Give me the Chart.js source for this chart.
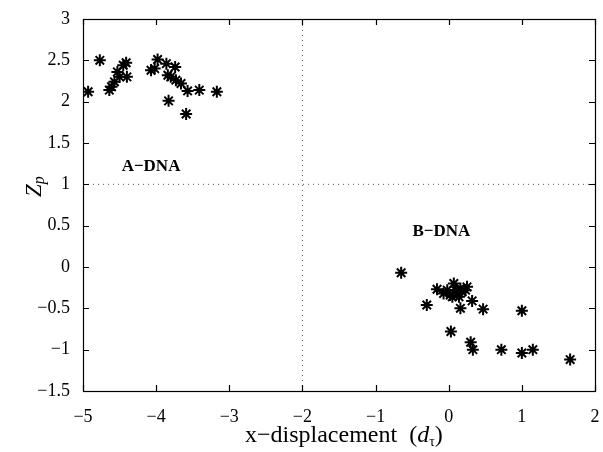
<!DOCTYPE html>
<html>
<head>
<meta charset="utf-8">
<script src="https://cdn.jsdelivr.net/npm/chart.js@4"></script>
<style>html,body{margin:0;padding:0;background:#fff}</style>
</head>
<body>
<canvas id="myChart" width="603" height="452"></canvas>
<script>
// A-DNA cluster
const aX = [-4.93, -4.77, -4.64, -4.61, -4.57, -4.53, -4.50, -4.45, -4.41, -4.40, -4.07, -4.02, -3.98, -3.86, -3.74, -3.84, -3.80, -3.73, -3.66, -3.57, -3.41, -3.17, -3.83, -3.59]
const aY = [2.12, 2.50, 2.14, 2.18, 2.24, 2.36, 2.30, 2.44, 2.47, 2.30, 2.38, 2.40, 2.51, 2.46, 2.42, 2.32, 2.30, 2.26, 2.22, 2.13, 2.14, 2.12, 2.01, 1.85]
// B-DNA cluster
const bX = [-0.65, -0.30, -0.16, -0.07, -0.02, 0.02, 0.07, 0.09, 0.12, 0.16, 0.18, 0.23, 0.25, 0.05, 0.14, 0.32, 0.16, 0.47, 1.00, 0.03, 0.30, 0.33, 0.72, 1.00, 1.15, 1.66]
const bY = [-0.07, -0.46, -0.27, -0.32, -0.28, -0.34, -0.20, -0.28, -0.32, -0.26, -0.30, -0.28, -0.24, -0.36, -0.36, -0.41, -0.50, -0.51, -0.53, -0.78, -0.91, -1.00, -1.00, -1.04, -1.00, -1.12]
const xTicks = [-5, -4, -3, -2, -1, 0, 1, 2]
const yTicks = [-1.5, -1, -0.5, 0, 0.5, 1, 1.5, 2, 2.5, 3]
const splitX = -2
const splitY = 1

const toPts = (xs, ys) => xs.map((x, i) => ({x, y: ys[i]}))
const minus = v => String(v).replace('-', '\u2212')

const starStyle = {
    type: 'scatter',
    pointStyle: 'star',
    pointRadius: 6,
    borderWidth: 2,
    borderColor: '#000',
    backgroundColor: '#000'
}
const dotLine = {
    type: 'line',
    borderColor: '#555',
    borderWidth: 1,
    borderDash: [1, 4],
    pointRadius: 0,
    fill: false
}

// box, inward ticks and rich text labels
const decor = {
    id: 'decor',
    afterDraw(chart) {
        const {ctx, chartArea: a, scales: {x, y}} = chart
        ctx.save()
        ctx.strokeStyle = '#000'
        ctx.lineWidth = 1.2
        ctx.strokeRect(a.left + 0.5, a.top + 0.5, a.right - a.left, a.bottom - a.top)
        ctx.beginPath()
        xTicks.forEach(v => {
            const px = Math.round(x.getPixelForValue(v)) + 0.5
            ctx.moveTo(px, a.bottom); ctx.lineTo(px, a.bottom - 6)
            ctx.moveTo(px, a.top); ctx.lineTo(px, a.top + 6)
        })
        yTicks.forEach(v => {
            const py = Math.round(y.getPixelForValue(v)) + 0.5
            ctx.moveTo(a.left, py); ctx.lineTo(a.left + 6, py)
            ctx.moveTo(a.right, py); ctx.lineTo(a.right - 6, py)
        })
        ctx.stroke()

        ctx.fillStyle = '#000'
        ctx.textBaseline = 'middle'
        ctx.textAlign = 'center'
        ctx.font = 'bold 17px "Liberation Serif"'
        ctx.fillText('A\u2212DNA', x.getPixelForValue(-4.07), y.getPixelForValue(1.21))
        ctx.fillText('B\u2212DNA', x.getPixelForValue(-0.10), y.getPixelForValue(0.43))

        // x axis title
        const parts = [
            ['x\u2212displacement  (', '24px "Liberation Serif"', 0],
            ['d', 'italic 24px "Liberation Serif"', 0],
            ['\u03c4', '14px "Liberation Serif"', 6],
            [')', '24px "Liberation Serif"', 0]
        ]
        ctx.textAlign = 'left'
        let cx = 245
        parts.forEach(p => {
            ctx.font = p[1]
            ctx.fillText(p[0], cx, 436 + p[2])
            cx += ctx.measureText(p[0]).width
        })

        // y axis title
        ctx.translate(35, (a.top + a.bottom) / 2 - 18)
        ctx.rotate(-Math.PI / 2)
        ctx.font = 'italic 23px "Liberation Serif"'
        ctx.fillText('Z', -10, 0)
        const zw = ctx.measureText('Z').width
        ctx.font = 'italic 16px "Liberation Serif"'
        ctx.fillText('p', -10 + zw, 5)
        ctx.restore()
    }
}

const ctx = document.getElementById('myChart')
new Chart(ctx, {
    data: {
        datasets: [
            {...starStyle, label: 'A-DNA', data: toPts(aX, aY)},
            {...starStyle, label: 'B-DNA', data: toPts(bX, bY)},
            {...dotLine, data: [{x: splitX, y: yTicks[0]}, {x: splitX, y: yTicks[yTicks.length - 1]}]},
            {...dotLine, data: [{x: xTicks[0], y: splitY}, {x: xTicks[xTicks.length - 1], y: splitY}]}
        ]
    },
    options: {
        responsive: false,
        devicePixelRatio: 1,
        animation: false,
        layout: {padding: {top: 19, right: 4, left: 0, bottom: 0}},
        plugins: {legend: {display: false}, tooltip: {enabled: false}},
        scales: {
            x: {
                type: 'linear',
                min: xTicks[0],
                max: xTicks[xTicks.length - 1],
                afterFit: s => { s.height = 61; s.paddingLeft = 0; s.paddingRight = 0 },
                afterBuildTicks: s => { s.ticks = xTicks.map(v => ({value: v})) },
                grid: {display: false},
                border: {display: false},
                ticks: {
                    padding: 7,
                    color: '#000',
                    font: {family: 'Liberation Serif', size: 18},
                    callback: v => minus(v)
                }
            },
            y: {
                type: 'linear',
                min: yTicks[0],
                max: yTicks[yTicks.length - 1],
                afterFit: s => { s.width = 83; s.paddingTop = 0; s.paddingBottom = 0 },
                afterBuildTicks: s => { s.ticks = yTicks.map(v => ({value: v})) },
                grid: {display: false},
                border: {display: false},
                ticks: {
                    padding: 5,
                    color: '#000',
                    font: {family: 'Liberation Serif', size: 18},
                    callback: v => minus(v)
                }
            }
        }
    },
    plugins: [decor]
})
</script>
</body>
</html>
